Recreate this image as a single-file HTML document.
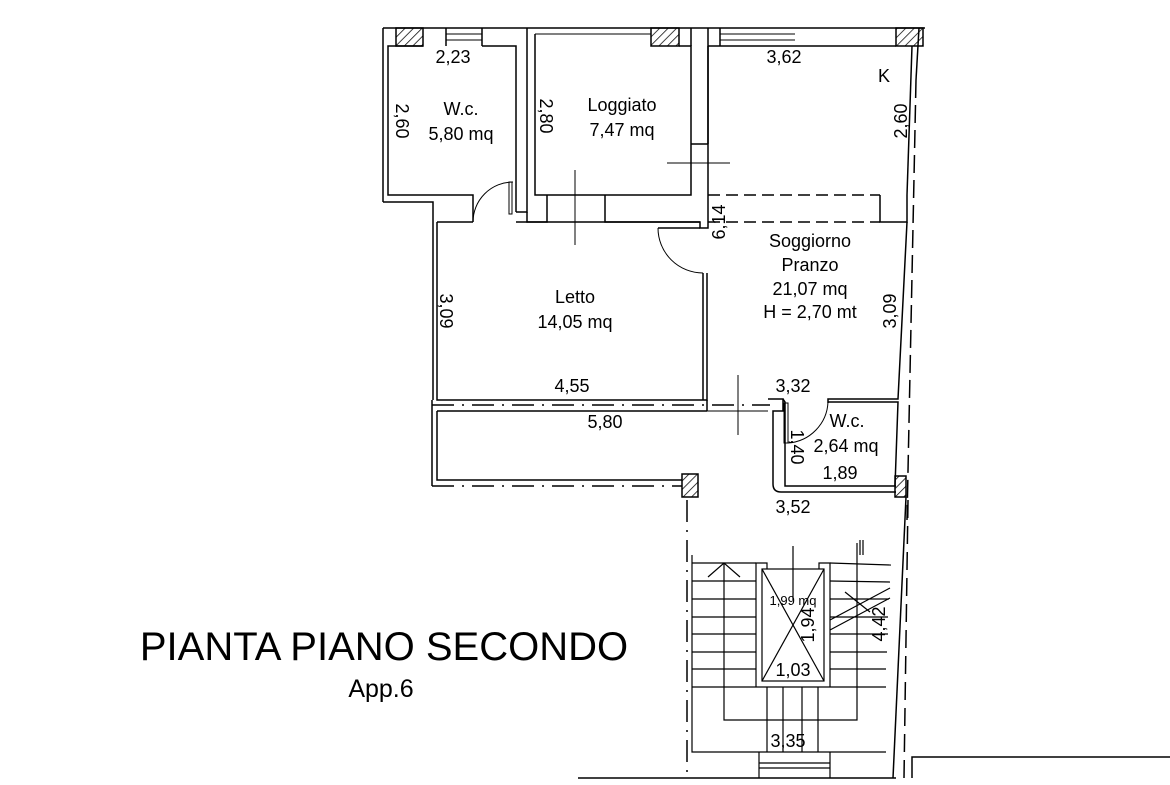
<!DOCTYPE html>
<html><head><meta charset="utf-8"><style>
html,body{margin:0;padding:0;background:#fff;}
svg{display:block;font-family:"Liberation Sans",Arial,sans-serif;}
</style></head><body>
<svg width="1170" height="785" viewBox="0 0 1170 785" xmlns="http://www.w3.org/2000/svg">
<defs>
<pattern id="h" width="6" height="6" patternUnits="userSpaceOnUse" patternTransform="rotate(45)">
<line x1="0" y1="0" x2="0" y2="6" stroke="#000" stroke-width="1.5"/></pattern>
</defs>
<g fill="none" stroke="#000" stroke-width="1.5">
<line x1="383" y1="28" x2="925" y2="28"/>
<rect x="396" y="28" width="27" height="18" fill="url(#h)"/>
<rect x="651" y="28" width="28" height="18" fill="url(#h)"/>
<rect x="896" y="28" width="27" height="18" fill="url(#h)"/>
<line x1="446" y1="34" x2="482" y2="34" stroke-width="1"/><line x1="446" y1="40" x2="482" y2="40" stroke-width="1"/>
<line x1="446" y1="28" x2="446" y2="46"/><line x1="482" y1="28" x2="482" y2="46"/>
<line x1="535" y1="34" x2="651" y2="34" stroke-width="1"/>
<line x1="720" y1="34" x2="795" y2="34" stroke-width="1"/><line x1="720" y1="40" x2="795" y2="40" stroke-width="1"/>
<line x1="720" y1="28" x2="720" y2="46"/>
<polyline points="423,46 388,46 388,195 473,195 473,222"/>
<polyline points="482,46 516,46 516,212"/>
<line x1="383" y1="28" x2="383" y2="202"/>
<polyline points="383,202 433,202 433,400"/>
<path d="M473,222 A40,40 0 0 1 513,182" stroke-width="1"/>
<rect x="509" y="182" width="3" height="32" stroke-width="1"/>
<polyline points="516,212 527,212 527,28"/>
<polyline points="535,34 535,195 691,195 691,46 679,46"/>
<line x1="691" y1="144" x2="708" y2="144"/>
<polyline points="691,28 691,46"/>
<polyline points="708,46 708,195"/>
<line x1="708" y1="28" x2="708" y2="144"/>
<polyline points="708,46 896,46"/>
<polyline points="912,46 907,195"/>
<polyline points="919,28 916,80"/>
<line x1="708" y1="195" x2="880" y2="195" stroke-dasharray="12,6"/>
<line x1="708" y1="222" x2="880" y2="222" stroke-dasharray="12,6"/>
<polyline points="880,195 880,222 907,222 907,195"/>
<polyline points="527,212 527,222 547,222 547,195"/>
<polyline points="605,195 605,222 700,222 700,228 708,228 708,195"/>
<line x1="437" y1="222" x2="473" y2="222"/>
<line x1="516" y1="222" x2="700" y2="222"/>
<polyline points="437,222 437,400 707,400 707,273"/>
<line x1="703" y1="273" x2="703" y2="400"/>
<path d="M658,228 A45,45 0 0 0 703,273" stroke-width="1"/>
<line x1="658" y1="228" x2="700" y2="228"/>
<polyline points="907,222 898,399 828,399 828,403"/>
<line x1="916" y1="80" x2="907" y2="520" stroke-dasharray="18,7"/>
<line x1="432" y1="405" x2="770" y2="405" stroke-dasharray="22,8,2,8"/>
<line x1="437" y1="411" x2="707" y2="411"/>
<line x1="707" y1="400" x2="707" y2="411"/>
<line x1="707" y1="411" x2="768" y2="411" stroke-width="1"/>
<polyline points="437,411 437,480 682,480"/>
<line x1="432" y1="400" x2="432" y2="486"/>
<line x1="432" y1="486" x2="682" y2="486" stroke-dasharray="22,8,2,8"/>
<rect x="682" y="474" width="16" height="23" fill="url(#h)"/>
<line x1="687" y1="500" x2="687" y2="778" stroke-dasharray="22,8,2,8"/>
<path d="M768,399 H783 V411 H773 V484 Q773,492 781,492 H896"/>
<polyline points="783,399 785,402 785,486 896,486"/>
<rect x="784" y="403" width="4" height="40" stroke-width="1"/>
<path d="M788,443 A43,43 0 0 0 828,402" stroke-width="1"/>
<polyline points="828,402 898,402 895,486"/>
<rect x="895" y="476" width="11" height="21" fill="url(#h)"/>
<polyline points="906,497 893,778"/>
<line x1="908" y1="500" x2="904" y2="778" stroke-dasharray="18,8"/>
<line x1="575" y1="170" x2="575" y2="245" stroke-width="1"/>
<line x1="667" y1="163" x2="730" y2="163" stroke-width="1"/>
<line x1="738" y1="375" x2="738" y2="435" stroke-width="1"/>
<g stroke-width="1.2">
<polyline points="692,555 692,752 886,752"/>
<line x1="692" y1="563" x2="756" y2="563"/>
<line x1="692" y1="581" x2="756" y2="581"/>
<line x1="692" y1="599" x2="756" y2="599"/>
<line x1="692" y1="617" x2="756" y2="617"/>
<line x1="692" y1="634" x2="756" y2="634"/>
<line x1="692" y1="652" x2="756" y2="652"/>
<line x1="692" y1="669" x2="756" y2="669"/>
<line x1="692" y1="687" x2="886" y2="687"/>
<line x1="830" y1="563" x2="891" y2="565"/>
<line x1="830" y1="581" x2="890" y2="582"/>
<line x1="830" y1="599" x2="889" y2="599"/>
<line x1="830" y1="617" x2="888" y2="617"/>
<line x1="830" y1="634" x2="888" y2="634"/>
<line x1="830" y1="652" x2="887" y2="652"/>
<line x1="830" y1="669" x2="886" y2="669"/>
<polyline points="756,687 756,563 767,563 767,569"/>
<polyline points="830,687 830,563 819,563 819,569"/>
<rect x="762" y="569" width="62" height="112"/>
<line x1="762" y1="569" x2="824" y2="681"/><line x1="824" y1="569" x2="762" y2="681"/>
<line x1="793" y1="546" x2="793" y2="600"/>
<line x1="767" y1="687" x2="767" y2="752"/>
<line x1="783" y1="687" x2="783" y2="752"/>
<line x1="802" y1="687" x2="802" y2="752"/>
<line x1="818" y1="687" x2="818" y2="752"/>
<polyline points="724,563 724,720 857,720 857,543"/>
<polyline points="708,577 724,563 740,577"/>
<line x1="830" y1="620" x2="890" y2="588"/>
<line x1="830" y1="630" x2="890" y2="598"/>
<line x1="845" y1="592" x2="870" y2="612"/>
<line x1="860" y1="540" x2="860" y2="555"/><line x1="863" y1="540" x2="863" y2="555"/>
<line x1="759" y1="752" x2="759" y2="778"/><line x1="830" y1="752" x2="830" y2="778"/>
<line x1="759" y1="763" x2="830" y2="763"/><line x1="759" y1="768" x2="830" y2="768"/>
</g>
<line x1="578" y1="778" x2="896" y2="778"/>
<polyline points="912,778 912,757 1170,757"/>
</g>
<g font-size="18" fill="#000" text-anchor="middle">
<text x="453" y="63">2,23</text>
<text x="784" y="63">3,62</text>
<text x="884" y="82">K</text>
<text x="461" y="115">W.c.</text>
<text x="461" y="140">5,80 mq</text>
<text x="622" y="111">Loggiato</text>
<text x="622" y="136">7,47 mq</text>
<text transform="translate(396,121) rotate(90)">2,60</text>
<text transform="translate(540,116) rotate(90)">2,80</text>
<text transform="translate(907,121) rotate(-90)">2,60</text>
<text transform="translate(725,222) rotate(-90)">6,14</text>
<text x="810" y="247">Soggiorno</text>
<text x="810" y="271">Pranzo</text>
<text x="810" y="295">21,07 mq</text>
<text x="810" y="318">H = 2,70 mt</text>
<text x="575" y="303">Letto</text>
<text x="575" y="328">14,05 mq</text>
<text transform="translate(440,311) rotate(90)">3,09</text>
<text transform="translate(896,311) rotate(-90)">3,09</text>
<text x="572" y="392">4,55</text>
<text x="793" y="392">3,32</text>
<text x="605" y="428">5,80</text>
<text x="847" y="427">W.c.</text>
<text x="846" y="452">2,64 mq</text>
<text x="840" y="479">1,89</text>
<text transform="translate(791,447) rotate(90)">1,40</text>
<text x="793" y="513">3,52</text>
<text x="793" y="605" font-size="13">1,99 mq</text>
<text transform="translate(814,625) rotate(-90)">1,94</text>
<text x="793" y="676">1,03</text>
<text transform="translate(885,624) rotate(-90)">4,42</text>
<text x="788" y="747">3,35</text>
<text x="384" y="660" font-size="40">PIANTA PIANO SECONDO</text>
<text x="381" y="697" font-size="25">App.6</text>
</g>
</svg>
</body></html>
